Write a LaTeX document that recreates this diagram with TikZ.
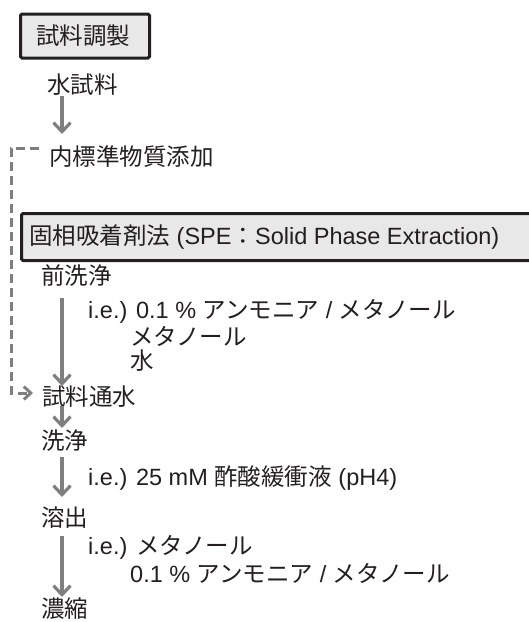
\documentclass[tikz,border=0pt]{standalone}
\usepackage{fontspec}
\setmainfont{Noto Sans CJK JP}
\newfontfamily\lat{Liberation Sans}
\usetikzlibrary{arrows.meta}
\definecolor{arrowgray}{HTML}{7F7F7F}
\definecolor{boxfill}{HTML}{E8E8E8}
\definecolor{boxline}{HTML}{231F20}
\definecolor{ink}{HTML}{231F20}
\tikzset{
  lbl/.style={anchor=west, inner sep=0pt, font=\fontsize{23.5}{27}\selectfont, text=ink},
  hdr/.style={draw=boxline, line width=3pt, fill=boxfill, rounded corners=1.5pt, anchor=west, inner sep=0pt},
  flow/.style={draw=arrowgray, line width=3.2pt, -{Straight Barb[length=9pt,width=17pt,line width=3.2pt]}},
  side/.style={draw=arrowgray, line width=3pt, dash pattern=on 9pt off 5pt, -{Straight Barb[length=7pt,width=13pt,line width=3pt]}}
}
\begin{document}
\begin{tikzpicture}[x=1pt,y=-1pt]
\useasboundingbox (0,0) rectangle (529,622);
\node[hdr, minimum width=129pt, minimum height=44pt] (prep) at (19,36) {};
\node[lbl] at (36,36) {試料調製};
\node[lbl] (water) at (47,85) {水試料};
\node[lbl] (istd) at (49,157) {内標準物質添加};
\node[hdr, minimum width=520pt, minimum height=47pt] (spe) at (20,237) {};
\node[lbl] at (29,237) {固相吸着剤法{\lat\ (SPE}：{\lat Solid Phase Extraction)}};
\node[lbl] (pre) at (41,276) {前洗浄};
\node[lbl] (pre1) at (88,311) {{\lat i.e.) 0.1 \% }アンモニア{\lat\ / }メタノール};
\node[lbl] (pre2) at (130,336) {メタノール};
\node[lbl] (pre3) at (130,361) {水};
\node[lbl] (load) at (42,397) {試料通水};
\node[lbl] (wash) at (41,441) {洗浄};
\node[lbl] (wash1) at (88,478) {{\lat i.e.) 25 mM }酢酸緩衝液{\lat\ (pH4)}};
\node[lbl] (elu) at (41,518) {溶出};
\node[lbl] (elu1) at (88,547) {{\lat i.e.) }メタノール};
\node[lbl] (elu2) at (130,573) {{\lat 0.1 \% }アンモニア{\lat\ / }メタノール};
\node[lbl] (conc) at (41,609) {濃縮};
\coordinate (c1) at (39,148);
\coordinate (c2) at (33,393);
\draw[flow] (62,96) -- (62,134);
\draw[flow] (62,298) -- (62,386);
\draw[flow] (62,406) -- (62,428);
\draw[flow] (62,457) -- (62,497);
\draw[flow] (62,536) -- (62,597);
\draw[side] (c1) -- (11,148) -- (11,393) -- (c2);
\end{tikzpicture}
\end{document}
